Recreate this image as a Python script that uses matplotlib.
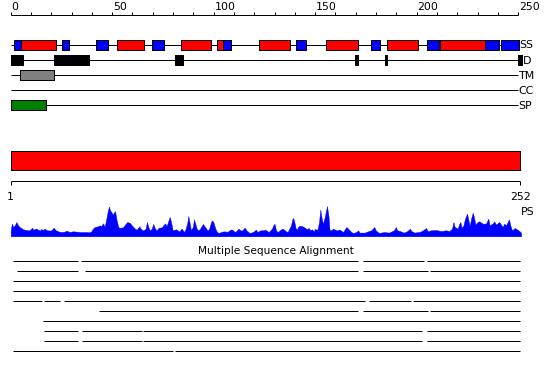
import matplotlib
matplotlib.use("Agg")
import matplotlib.pyplot as plt

# residue positions, 0 = residue 1
SEQ_LEN = 252
RULER_TICKS = list(range(0, 251, 10))
RULER_LABELS = list(range(0, 251, 50))

SS_HELIX = [(5, 22.5), (52.6, 65.7), (83.8, 98.8), (101.5, 104.5),
            (122.3, 137.8), (155.4, 170.9), (185.5, 200.5), (211.7, 233.6)]
SS_STRAND = [(1.8, 5), (25.5, 28.6), (41.8, 47.9), (69.4, 75.5),
             (104.5, 108.4), (140.5, 145.7), (177.6, 181.7), (205.2, 210.9),
             (233.6, 240.6), (241.3, 250.4)]
DISORDER = [(0, 6), (21.4, 38.5), (81, 85), (169.5, 171), (184.3, 185.6),
            (250, 252)]
TM = [(4.7, 21.5)]
CC = []
SP = [(0, 17.6)]

TRACK_NAMES = ["SS", "D", "TM", "CC", "SP"]
TRACK_ENDS = [250.4, 252, 250, 250, 250]

MSA_ROWS = [
    [(1, 33), (34.6, 171.2), (173.4, 203.7), (204.9, 250.9)],
    [(3, 33), (36.6, 171.2), (173.4, 205.7), (206.5, 250.9)],
    [(1, 250.9)],
    [(1, 250.9)],
    [(1, 15.6), (16.6, 24.4), (26.4, 174.5), (176.7, 197.2), (198, 250.9)],
    [(43.6, 171.2), (173.4, 205.7), (206.5, 250.9)],
    [(15.8, 250.9)],
    [(16.6, 33), (35.3, 64.5), (65.3, 202.5), (204.9, 250.9)],
    [(16.6, 33), (35.3, 64.5), (65.3, 202.5), (204.9, 250.9)],
    [(1, 80.1), (80.9, 250.9)],
]

PS_PROFILE = [
    (0, 6), (0.6, 12.7), (1.3, 9.3), (2.0, 11), (2.8, 14.3), (3.6, 11),
    (4.4, 9.3), (5.2, 8.3), (6.1, 7), (7.7, 6.3), (9.3, 6), (10.5, 8.7),
    (11.0, 6.7), (12.6, 7.7), (14.3, 5.7), (15.1, 7.3), (15.9, 6.3),
    (16.7, 7.7), (17.6, 6.3), (19.2, 5.7), (20.0, 6), (21.2, 8.7),
    (22.0, 6.3), (23.3, 5), (24.9, 4.3), (26.6, 4.7), (27.4, 5.7),
    (29.0, 4.3), (30.7, 5), (32.3, 4.7), (34.0, 4.3), (35.6, 4.3),
    (37.3, 4.3), (38.9, 4), (39.7, 5), (40.5, 7.7), (41.4, 9.3), (43.0, 10),
    (43.8, 11), (44.6, 10.3), (45.5, 13), (46.3, 9.3), (47.1, 17.7),
    (47.9, 26), (48.4, 29.7), (48.9, 26), (49.6, 24.3), (50.2, 21.7),
    (51.4, 25.3), (52.2, 16), (53.0, 9.3), (53.8, 8.3), (55.5, 9.3),
    (56.3, 11.7), (57.4, 14.3), (58.8, 13.3), (59.6, 11), (61.2, 7.7),
    (62.1, 6.7), (63.4, 10), (64.0, 7.7), (65.3, 5.7), (66.5, 7.7),
    (67.1, 14.3), (67.8, 9.3), (68.6, 5.7), (69.5, 7.7), (70.2, 12.3),
    (71.1, 7.7), (71.9, 6), (72.7, 8.3), (74.4, 9), (75.2, 11), (76.0, 13),
    (76.8, 10.3), (77.6, 15), (78.3, 19.3), (79.0, 14.3), (79.8, 6),
    (81.4, 7), (83.1, 5), (84.2, 7.7), (85.4, 4.3), (86.2, 7.7),
    (87.0, 13.7), (87.5, 20.3), (88.2, 12.7), (88.8, 6), (89.7, 9.3),
    (90.3, 17), (90.9, 12.7), (91.6, 7.7), (92.4, 6), (93.3, 7.7),
    (94.7, 12.3), (95.4, 10.3), (97.0, 5.7), (97.8, 7.7), (98.7, 14.3),
    (99.3, 16), (99.9, 13.7), (100.8, 7.7), (101.6, 4.3), (102.5, 3.3),
    (104.1, 4.7), (105.7, 5), (106.6, 4.3), (108.2, 6.7), (109.0, 6.7),
    (110.6, 4.3), (112.3, 7.7), (113.1, 6), (113.9, 5.7), (115.3, 8.7),
    (116.1, 6), (117.7, 3.3), (119.4, 4.3), (120.8, 6.7), (121.5, 4.3),
    (123.0, 6), (124.6, 6), (125.4, 6.7), (127.1, 4.3), (128.7, 7.7),
    (129.5, 11.7), (130.0, 12.3), (130.7, 6), (131.5, 4.3), (133.2, 7),
    (134.0, 7.7), (135.6, 5), (136.4, 4.3), (138.1, 11), (138.7, 17),
    (139.2, 18.3), (139.9, 12.7), (140.5, 7), (141.2, 7.7), (141.9, 10.3),
    (143.5, 10.3), (145.1, 8.3), (146.0, 7), (146.8, 8.3), (147.6, 6),
    (148.4, 7), (149.3, 5), (150.0, 7.7), (151.0, 6), (151.9, 14.3),
    (152.5, 26.7), (153.2, 17.7), (153.8, 12.7), (154.5, 17.7),
    (155.2, 24.3), (155.8, 30.3), (156.5, 21), (157.1, 6), (157.9, 6),
    (158.8, 7.7), (160.4, 6), (162.1, 6.7), (163.7, 4.3), (165.3, 9.3),
    (166.2, 7.7), (167.8, 4.3), (168.6, 3.3), (170.3, 4.3), (171.1, 6),
    (171.9, 3.7), (174.4, 3.7), (176.0, 5), (177.6, 6), (179.1, 9.3),
    (179.8, 6), (181.4, 3.3), (183.9, 4.3), (186.4, 3.7), (188.0, 5.3),
    (188.8, 6), (189.7, 9.3), (190.4, 6), (192.1, 5), (193.7, 3.7),
    (195.4, 5.3), (196.7, 7.7), (197.3, 5.3), (199.0, 3.7), (200.6, 4.3),
    (201.3, 4.3), (202.9, 5.7), (204.6, 8.3), (205.4, 5), (207.0, 6),
    (209.5, 6.3), (212.0, 5.3), (214.4, 6), (216.1, 5.3), (217.4, 7.7),
    (218.1, 14.3), (218.7, 9.3), (220.2, 7.7), (221.0, 12.7), (221.5, 14.3),
    (222.2, 8.3), (223.0, 11), (223.8, 17.7), (224.8, 22.7), (225.5, 16),
    (226.1, 10.3), (226.8, 17.7), (227.6, 23.7), (228.2, 19.3),
    (228.9, 11.7), (230.0, 14.3), (230.8, 15), (232.5, 12.7), (234.1, 12.7),
    (235.3, 17.7), (235.9, 11), (237.4, 12.7), (238.2, 15), (239.0, 11.7),
    (240.7, 14.3), (242.3, 9.3), (243.1, 12.7), (244.0, 11), (245.5, 17),
    (246.1, 11), (247.0, 6), (248.3, 8.3), (249.4, 7), (250.7, 5),
    (251.4, 3.7),
]

# ---- layout (pixels) ----
W, H = 550, 380
PX0, PX_PER = 10.7, 2.03          # x pixel of position 0, pixels per residue
X_LO = -PX0 / PX_PER
X_HI = (W - PX0) / PX_PER
LW = 0.72                         # 1 px line
FS = 7.9

fig = plt.figure(figsize=(W / 100, H / 100), dpi=100)
ax = fig.add_axes([0, 0, 1, 1])
ax.set_xlim(X_LO, X_HI)
ax.set_ylim(H, 0)
ax.axis("off")

# top ruler
ax.hlines(14.7, 0, 250, color="black", lw=LW)
for t in RULER_TICKS:
    ax.vlines(t, 11.5, 14.7, color="black", lw=LW)
for t in RULER_LABELS:
    ax.text(t + 0.3, 10.3, str(t), ha="left", va="baseline", fontsize=FS)

# feature tracks
track_y = [45, 60.3, 75.3, 90.3, 105.3]
box_h = 10
tracks = [[(SS_HELIX, "#ff0000"), (SS_STRAND, "#0000ff")],
          [(DISORDER, "black")],
          [(TM, "#808080")],
          [(CC, "#ffcc00")],
          [(SP, "#008000")]]
for y, name, end, parts in zip(track_y, TRACK_NAMES, TRACK_ENDS, tracks):
    ax.hlines(y, 0, end, color="black", lw=LW, zorder=1)
    for segs, col in parts:
        if segs:
            ax.broken_barh([(s, e - s) for s, e in segs], (y - box_h / 2, box_h),
                           facecolors=col, edgecolors="black", lw=LW, zorder=2)
    ax.text(end + 0.2, y + 0.5, name, ha="left", va="center", fontsize=FS)

# full-length bar
ax.broken_barh([(0, SEQ_LEN - 1)], (150.7, 19.6), facecolors="#ff0000",
               edgecolors="black", lw=LW)

# bottom ruler
ax.hlines(180.7, 0, SEQ_LEN - 1, color="black", lw=LW)
ax.vlines([0, SEQ_LEN - 1], 180.7, 185, color="black", lw=LW)
ax.text(0, 200, "1", ha="center", va="baseline", fontsize=FS)
ax.text(SEQ_LEN - 1, 200, str(SEQ_LEN), ha="center", va="baseline", fontsize=FS)
ax.text(SEQ_LEN - 0.6, 215, "PS", ha="left", va="baseline", fontsize=FS)

# multiple sequence alignment
ax.text(130.5, 254.5, "Multiple Sequence Alignment", ha="center",
        va="baseline", fontsize=7.6)
for i, row in enumerate(MSA_ROWS):
    y = 260.7 + 10 * i
    for s, e in row:
        ax.hlines(y, s, e, color="black", lw=LW)

# PS profile
base_px, top_px = 236.3, 200.0
ax_ps = fig.add_axes([0, (H - base_px) / H, 1, (base_px - top_px) / H])
ax_ps.set_xlim(X_LO, X_HI)
ax_ps.set_ylim(0, base_px - top_px)
ax_ps.axis("off")
ps_x = [p for p, v in PS_PROFILE]
ps_y = [v for p, v in PS_PROFILE]
ax_ps.fill_between(ps_x, 0, ps_y, color="#0000ff", lw=0.3)

fig.savefig("out.png", dpi=100)
